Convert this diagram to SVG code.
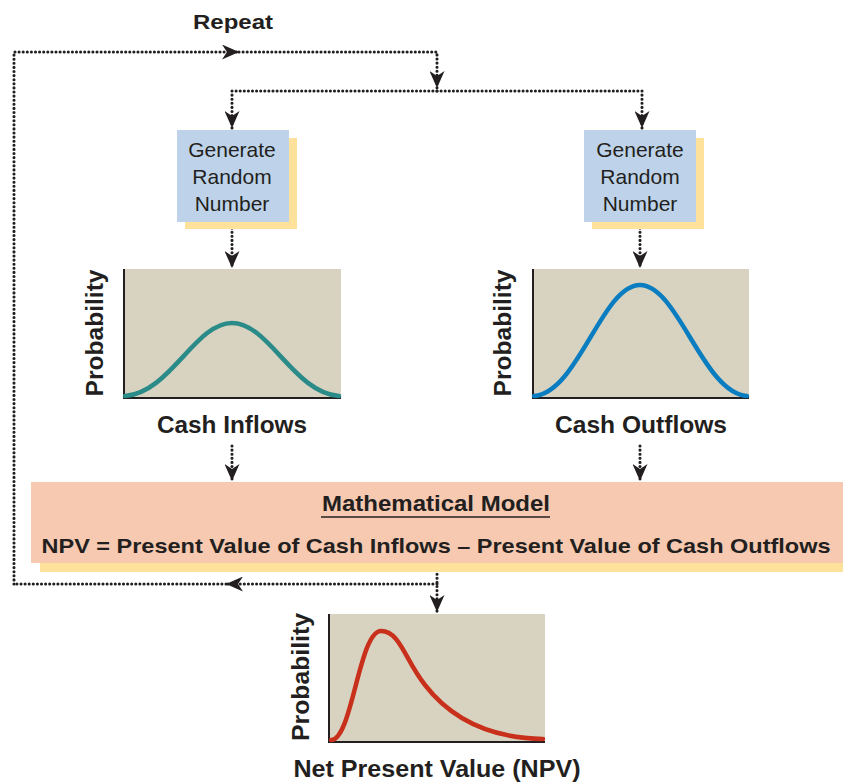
<svg xmlns="http://www.w3.org/2000/svg" width="843" height="783" viewBox="0 0 843 783">
<style>
.bg{fill:#ffffff}
.box{fill:#bed3e9}
.shadow{fill:#fee29b}
.plot{fill:#d8d3c0}
.axis{fill:none;stroke:#231f20;stroke-width:2}
.model{fill:#f6c9b0}
.dot{fill:none;stroke:#231f20;stroke-width:3.1;stroke-linecap:round;stroke-dasharray:0 4.1}
.t{font-family:"Liberation Sans",Arial,sans-serif;fill:#231f20}
.reg{font-size:21px;text-anchor:middle}
.b{font-weight:bold}
.lbl{font-size:23px;text-anchor:middle;font-weight:bold}
.prob{font-size:23px;text-anchor:middle;font-weight:bold}
.curve{fill:none;stroke-width:4.5;stroke-linecap:round}
</style>
<defs>
<marker id="ah" viewBox="0 0 17 15" refX="17" refY="7.5" markerWidth="17" markerHeight="15" markerUnits="userSpaceOnUse" orient="auto">
<path d="M0,0 L17,7.5 L0,15 L5,7.5 Z" fill="#231f20"/>
</marker>
</defs>
<rect class="bg" x="0" y="0" width="843" height="783"/>

<g id="connectors">
<path class="dot" d="M14,584 L14,52 L239,52" marker-end="url(#ah)"/>
<path class="dot" d="M239,52 L437,52 L437,88" marker-end="url(#ah)"/>
<path class="dot" d="M437,91 L232,91 L232,128" marker-end="url(#ah)"/>
<path class="dot" d="M437,91 L642,91 L642,128" marker-end="url(#ah)"/>
<path class="dot" d="M232,224 L232,268" marker-end="url(#ah)"/>
<path class="dot" d="M640,224 L640,268" marker-end="url(#ah)"/>
<path class="dot" d="M232,446 L232,481" marker-end="url(#ah)"/>
<path class="dot" d="M640,446 L640,481" marker-end="url(#ah)"/>
<path class="dot" d="M437,566 L437,612" marker-end="url(#ah)"/>
<path class="dot" d="M437,584 L226,584" marker-end="url(#ah)"/>
<path class="dot" d="M226,584 L14,584"/>
</g>

<g id="label-repeat">
<text class="t b" x="233" y="29" font-size="21" text-anchor="middle" textLength="80" lengthAdjust="spacingAndGlyphs">Repeat</text>
</g>

<g id="gen-left">
<rect class="shadow" x="185" y="138" width="112" height="91"/>
<rect class="box" x="177" y="130" width="112" height="92"/>
<text class="t reg" x="232" y="157">Generate</text>
<text class="t reg" x="232" y="184">Random</text>
<text class="t reg" x="232" y="211">Number</text>
</g>

<g id="gen-right">
<rect class="shadow" x="592" y="138" width="112" height="91"/>
<rect class="box" x="584" y="130" width="112" height="92"/>
<text class="t reg" x="640" y="157">Generate</text>
<text class="t reg" x="640" y="184">Random</text>
<text class="t reg" x="640" y="211">Number</text>
</g>

<g id="chart-inflows">
<rect class="plot" x="124" y="269" width="217" height="129"/>
<path class="axis" d="M124,269 L124,398 L341,398"/>
<path class="curve" stroke="#2b8b89" d="M125,396 C170,393 195,323 232,323 S294,393 339,396"/>
<text class="t prob" transform="translate(103,333) rotate(-90)" textLength="127" lengthAdjust="spacingAndGlyphs">Probability</text>
<text class="t lbl" x="232" y="433" textLength="150" lengthAdjust="spacingAndGlyphs">Cash Inflows</text>
</g>

<g id="chart-outflows">
<rect class="plot" x="533" y="269" width="216" height="129"/>
<path class="axis" d="M533,269 L533,398 L749,398"/>
<path class="curve" stroke="#0a7dc1" d="M534,396 C578,393 602,285 640,285 S703,393 747,396"/>
<text class="t prob" transform="translate(511,333) rotate(-90)" textLength="127" lengthAdjust="spacingAndGlyphs">Probability</text>
<text class="t lbl" x="641" y="433" textLength="172" lengthAdjust="spacingAndGlyphs">Cash Outflows</text>
</g>

<g id="model">
<rect class="shadow" x="40" y="490" width="803" height="82"/>
<rect class="model" x="31" y="482" width="812" height="81"/>
<text class="t b" x="436" y="511" font-size="22" text-anchor="middle" textLength="228" lengthAdjust="spacingAndGlyphs">Mathematical Model</text>
<line x1="321" y1="517" x2="550" y2="517" stroke="#231f20" stroke-width="1.6"/>
<text class="t b" x="436" y="553" font-size="21" text-anchor="middle" textLength="789" lengthAdjust="spacingAndGlyphs">NPV = Present Value of Cash Inflows – Present Value of Cash Outflows</text>
</g>

<g id="chart-npv">
<rect class="plot" x="329" y="614" width="216" height="128"/>
<path class="axis" d="M329,614 L329,742 L545,742"/>
<path class="curve" stroke="#c8301c" d="M331,740 C352,741 359,631 381,631 C400,631 405,660 425,685 C452,720 490,738 543,739"/>
<text class="t prob" transform="translate(309,677) rotate(-90)" textLength="128" lengthAdjust="spacingAndGlyphs">Probability</text>
<text class="t lbl" x="437" y="777" textLength="287" lengthAdjust="spacingAndGlyphs">Net Present Value (NPV)</text>
</g>
</svg>
